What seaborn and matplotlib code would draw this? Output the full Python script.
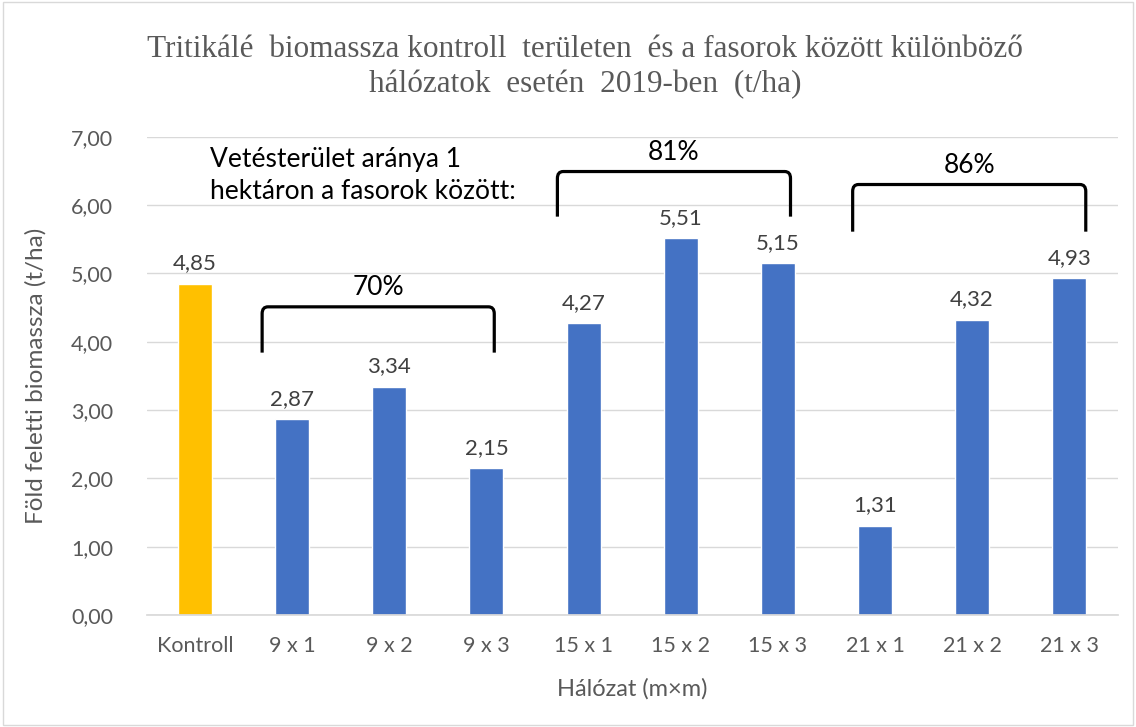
import numpy as np
import pandas as pd
import seaborn as sns
import matplotlib.pyplot as plt
from matplotlib.path import Path
from matplotlib.patches import PathPatch, Rectangle

categories = ["Kontroll", "9 x 1", "9 x 2", "9 x 3", "15 x 1", "15 x 2", "15 x 3",
              "21 x 1", "21 x 2", "21 x 3"]
biomass = [4.85, 2.87, 3.34, 2.15, 4.27, 5.51, 5.15, 1.31, 4.32, 4.93]
bar_colors = ["#FFC000"] + ["#4472C4"] * 9

# groups of spacings with the share of sown area between tree rows
group_labels = ["70%", "81%", "86%"]
group_first = [1, 4, 7]
group_last = [3, 6, 9]
bracket_top = [4.51, 6.49, 6.30]
bracket_bottom = [3.84, 5.83, 5.61]
bracket_pad_left = [0.31, 0.27, 0.23]
bracket_pad_right = [0.08, 0.13, 0.17]

df = pd.DataFrame({"Hálózat": categories, "Biomassza": biomass})

sns.set_theme(style="white")
plt.rcParams["font.family"] = ["Lato", "DejaVu Sans"]

fig, ax = plt.subplots(figsize=(11.36, 7.27), dpi=100)
fig.subplots_adjust(left=0.129, right=0.984, bottom=0.154, top=0.812)

sns.barplot(data=df, x="Hálózat", y="Biomassza", hue="Hálózat",
            palette=bar_colors, legend=False, width=0.35, ax=ax, saturation=1)

ax.set_ylim(0, 7)
ax.set_xlim(-0.5, 9.5)
ax.set_yticks(np.arange(0, 7.01, 1))
ax.set_yticklabels([f"{v:.2f}".replace(".", ",") for v in np.arange(0, 7.01, 1)])
ax.yaxis.grid(True, color="#D9D9D9", linewidth=1)
ax.set_axisbelow(True)
for s in ["top", "right", "left"]:
    ax.spines[s].set_visible(False)
ax.spines["bottom"].set_color("#D9D9D9")
ax.tick_params(axis="both", length=0, labelsize=15.5, colors="#595959")
ax.tick_params(axis="y", pad=24)
ax.tick_params(axis="x", pad=15)

ax.set_xlabel("Hálózat (m×m)", fontsize=17, color="#595959", labelpad=16)
ax.set_ylabel("Föld feletti biomassza (t/ha)", fontsize=17.5, color="#595959", labelpad=18)

for i, v in enumerate(biomass):
    ax.text(i, v + 0.15, f"{v:.2f}".replace(".", ","), ha="center", va="bottom",
            fontsize=16, color="#404040")

# brackets
rx, ry = 0.06, 0.1
for lab, a, b, yt, yb, pl, pr in zip(group_labels, group_first, group_last, bracket_top,
                                     bracket_bottom, bracket_pad_left, bracket_pad_right):
    x0, x1 = a - pl, b + pr
    verts = [(x0, yb), (x0, yt - ry), (x0, yt), (x0 + rx, yt),
             (x1 - rx, yt), (x1, yt), (x1, yt - ry), (x1, yb)]
    codes = [Path.MOVETO, Path.LINETO, Path.CURVE3, Path.CURVE3,
             Path.LINETO, Path.CURVE3, Path.CURVE3, Path.LINETO]
    ax.add_patch(PathPatch(Path(verts, codes), fill=False, edgecolor="black",
                           linewidth=2.3, capstyle="butt", zorder=4))
    ax.text((x0 + x1) / 2, yt + 0.1, lab, ha="center", va="bottom",
            fontsize=19, color="black")

ax.text(0.15, 6.02, "Vetésterület aránya 1\nhektáron a fasorok között:",
        ha="left", va="bottom", fontsize=19, color="black", linespacing=1.33)

fig.text(0.515, 0.908, "Tritikálé  biomassza kontroll  területen  és a fasorok között különböző\n"
         "hálózatok  esetén  2019-ben  (t/ha)", ha="center", va="center",
         fontsize=22.5, color="#595959", family="Liberation Serif", linespacing=1.25)

fig.patches.append(Rectangle((0.003, 0.003), 0.994, 0.994, transform=fig.transFigure,
                             fill=False, edgecolor="#D9D9D9", linewidth=1))

fig.savefig("out.png", dpi=100)
